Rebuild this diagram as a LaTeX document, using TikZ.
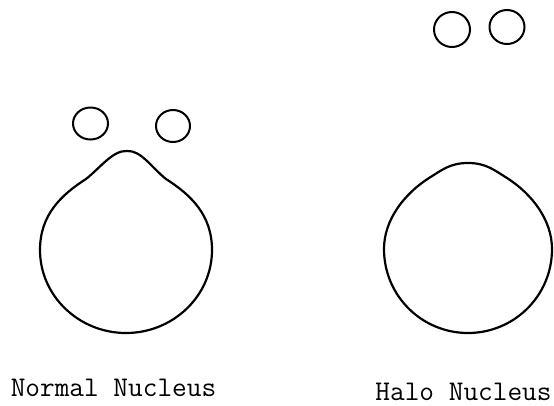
\documentclass[tikz,border=0pt]{standalone}
\usepackage{tikz}
\usetikzlibrary{shapes.geometric}
\definecolor{InkK}{RGB}{0,0,0}

\begin{document}
\begin{tikzpicture}[x=1pt,y=-1pt,
    body/.style={draw=InkK,line width=2.2pt,line join=round},
    neutron/.style={draw=InkK,line width=2pt,ellipse,inner sep=0pt},
    caption/.style={anchor=base,font=\ttfamily\fontsize{28.5}{30}\selectfont}]
        \useasboundingbox (0,0) rectangle (554,405);
        % normal nucleus, bump on top
        \draw[body] (127,151) .. controls (141,150) and (152,168) .. (166,179)
          .. controls (191,195) and (212,215) .. (212,250)
          .. controls (212,296) and (173,333) .. (126,333)
          .. controls (79,333) and (40,296) .. (40,250)
          .. controls (40,215) and (61,195) .. (86,179)
          .. controls (100,168) and (113,150) .. (127,151) -- cycle;
        \node[neutron,minimum width=35pt,minimum height=32pt] (n1) at (90.5,123.5) {};
        \node[neutron,minimum width=34pt,minimum height=32pt] (n2) at (173,126) {};
        % halo nucleus, far neutrons
        \draw[body] (468,163) .. controls (486,163) and (494,170) .. (507,178)
          .. controls (532,194) and (552,220) .. (552,249)
          .. controls (552,296) and (514,333) .. (468,333)
          .. controls (422,333) and (384,296) .. (384,249)
          .. controls (384,220) and (404,194) .. (429,178)
          .. controls (442,170) and (450,163) .. (468,163) -- cycle;
        \node[neutron,minimum width=36pt,minimum height=35pt] (h1) at (452,29.5) {};
        \node[neutron,minimum width=35pt,minimum height=34pt] (h2) at (507,27) {};
        \node[caption] (normal) at (113.5,396) {Normal Nucleus};
        \node[caption] (halo) at (463.5,400) {Halo Nucleus};
      \end{tikzpicture}
\end{document}
